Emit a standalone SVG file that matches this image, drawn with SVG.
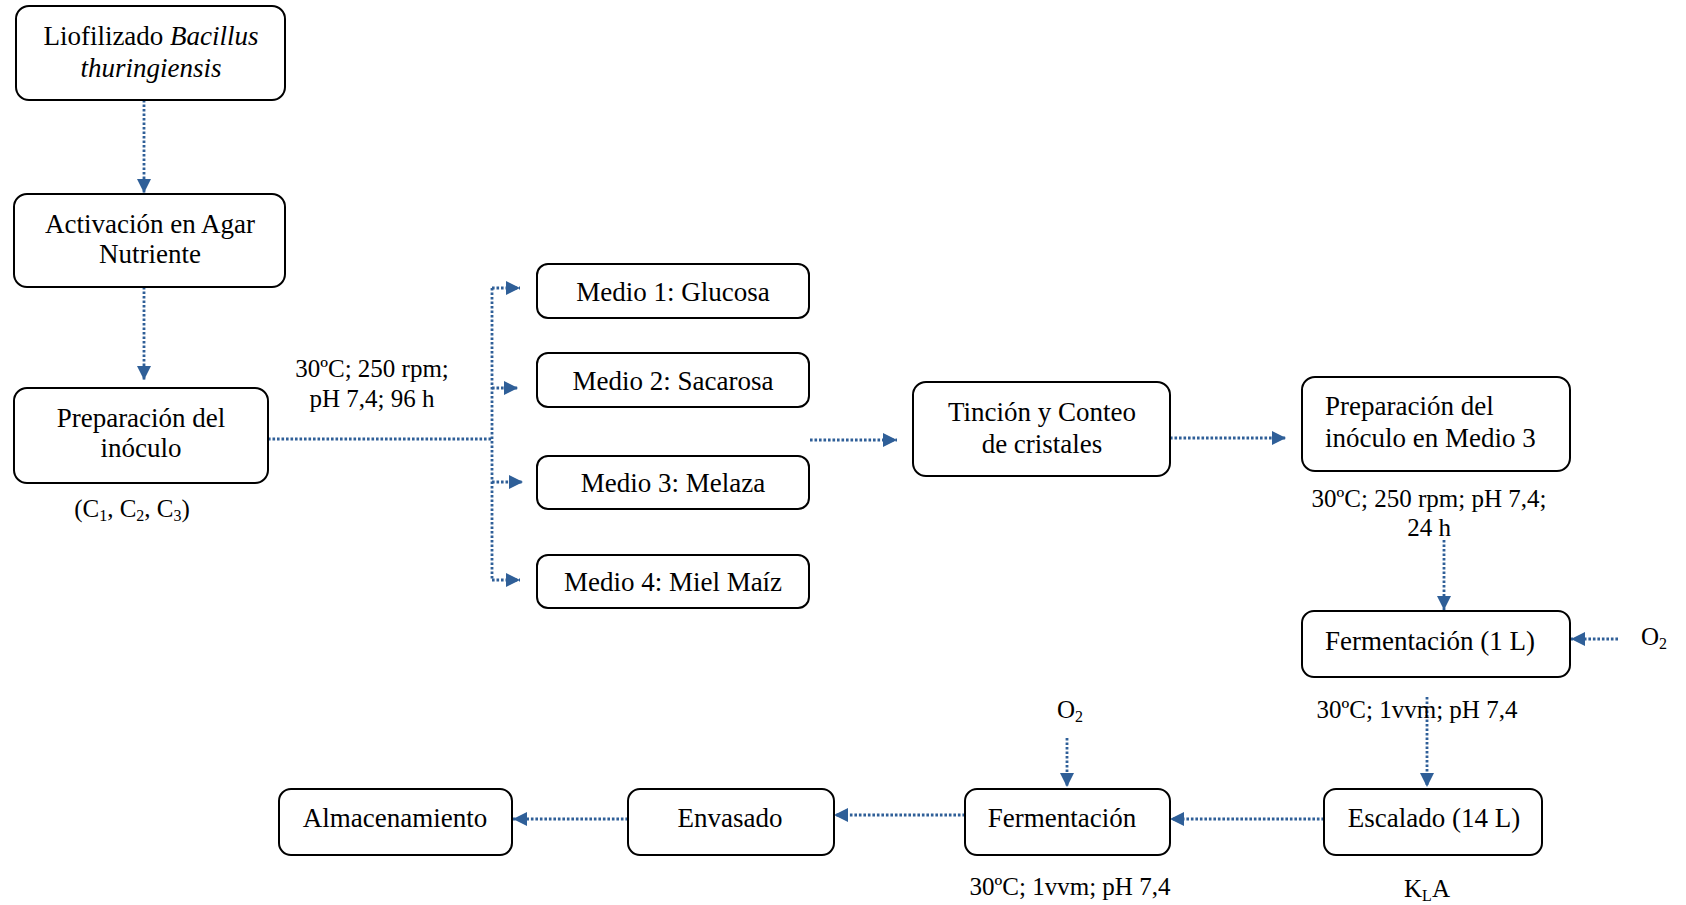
<svg xmlns="http://www.w3.org/2000/svg" width="1686" height="905" viewBox="0 0 1686 905">
<style>
text{font-family:"Liberation Serif","Times New Roman",serif;font-size:27px;fill:#000}
.m{text-anchor:middle}
.l{font-size:25px}
.box{fill:#fff;stroke:#000;stroke-width:2}
.c{fill:none;stroke:#2F5F98;stroke-width:2.8;stroke-dasharray:2.6 1.9}
.a{marker-end:url(#ah)}
.sub{font-size:16px}
</style>
<defs>
<marker id="ah" viewBox="0 0 14 14" refX="14" refY="7" markerWidth="14" markerHeight="14" markerUnits="userSpaceOnUse" orient="auto">
<path d="M0,0 L14,7 L0,14 Z" fill="#2F5F98"/>
</marker>
</defs>
<rect width="1686" height="905" fill="#fff"/>
<g id="connectors">
<path class="c a" d="M144,100 V193"/>
<path class="c a" d="M144,287 V380"/>
<path class="c" d="M268,439 H492"/>
<path class="c" d="M492,288 V580"/>
<path class="c a" d="M492,288 H520"/>
<path class="c a" d="M492,388 H518"/>
<path class="c a" d="M492,482 H523"/>
<path class="c a" d="M492,580 H520"/>
<path class="c a" d="M810,440 H897"/>
<path class="c a" d="M1170,438 H1286"/>
<path class="c a" d="M1444,540 V610"/>
<path class="c a" d="M1618,639 H1571"/>
<path class="c a" d="M1427,697 V787"/>
<path class="c a" d="M1324,819 H1170"/>
<path class="c a" d="M965,815 H834"/>
<path class="c a" d="M628,819 H513"/>
<path class="c a" d="M1067,738 V787"/>
</g>
<g id="n1"><rect class="box" x="16" y="6" width="269" height="94" rx="13"/>
<text class="m" x="151" y="45">Liofilizado <tspan font-style="italic">Bacillus</tspan></text>
<text class="m" x="151" y="77" font-style="italic">thuringiensis</text></g>
<g id="n2"><rect class="box" x="14" y="194" width="271" height="93" rx="13"/>
<text class="m" x="150" y="233">Activación en Agar</text>
<text class="m" x="150" y="263">Nutriente</text></g>
<g id="n3"><rect class="box" x="14" y="388" width="254" height="95" rx="13"/>
<text class="m" x="141" y="427">Preparación del</text>
<text class="m" x="141" y="457">inóculo</text></g>
<text class="m l" x="132" y="517">(C<tspan class="sub" dy="4">1</tspan><tspan dy="-4">, C</tspan><tspan class="sub" dy="4">2</tspan><tspan dy="-4">, C</tspan><tspan class="sub" dy="4">3</tspan><tspan dy="-4">)</tspan></text>
<text class="m l" x="372" y="377">30ºC; 250 rpm;</text>
<text class="m l" x="372" y="407">pH 7,4; 96 h</text>
<g id="m1"><rect class="box" x="537" y="264" width="272" height="54" rx="11"/>
<text class="m" x="673" y="301">Medio 1: Glucosa</text></g>
<g id="m2"><rect class="box" x="537" y="353" width="272" height="54" rx="11"/>
<text class="m" x="673" y="390">Medio 2: Sacarosa</text></g>
<g id="m3"><rect class="box" x="537" y="456" width="272" height="53" rx="11"/>
<text class="m" x="673" y="492">Medio 3: Melaza</text></g>
<g id="m4"><rect class="box" x="537" y="555" width="272" height="53" rx="11"/>
<text class="m" x="673" y="591">Medio 4: Miel Maíz</text></g>
<g id="tincion"><rect class="box" x="913" y="382" width="257" height="94" rx="13"/>
<text class="m" x="1042" y="421">Tinción y Conteo</text>
<text class="m" x="1042" y="453">de cristales</text></g>
<g id="prep3"><rect class="box" x="1302" y="377" width="268" height="94" rx="13"/>
<text x="1325" y="415">Preparación del</text>
<text x="1325" y="447">inóculo en Medio 3</text></g>
<text class="m l" x="1429" y="507">30ºC; 250 rpm; pH 7,4;</text>
<text class="m l" x="1429" y="536">24 h</text>
<g id="ferm1"><rect class="box" x="1302" y="611" width="268" height="66" rx="12"/>
<text class="m" x="1430" y="650">Fermentación (1 L)</text></g>
<text class="l" x="1641" y="645">O<tspan class="sub" dy="4">2</tspan></text>
<text class="m l" x="1417" y="718">30ºC; 1vvm; pH 7,4</text>
<g id="escalado"><rect class="box" x="1324" y="789" width="218" height="66" rx="12"/>
<text class="m" x="1434" y="827">Escalado (14 L)</text></g>
<text class="m l" x="1427" y="897">K<tspan class="sub" dy="4">L</tspan><tspan dy="-4">A</tspan></text>
<g id="ferm"><rect class="box" x="965" y="789" width="205" height="66" rx="12"/>
<text class="m" x="1062" y="827">Fermentación</text></g>
<text class="m l" x="1070" y="718">O<tspan class="sub" dy="4">2</tspan></text>
<text class="m l" x="1070" y="895">30ºC; 1vvm; pH 7,4</text>
<g id="envasado"><rect class="box" x="628" y="789" width="206" height="66" rx="12"/>
<text class="m" x="730" y="827">Envasado</text></g>
<g id="almac"><rect class="box" x="279" y="789" width="233" height="66" rx="12"/>
<text class="m" x="395" y="827">Almacenamiento</text></g>
</svg>
